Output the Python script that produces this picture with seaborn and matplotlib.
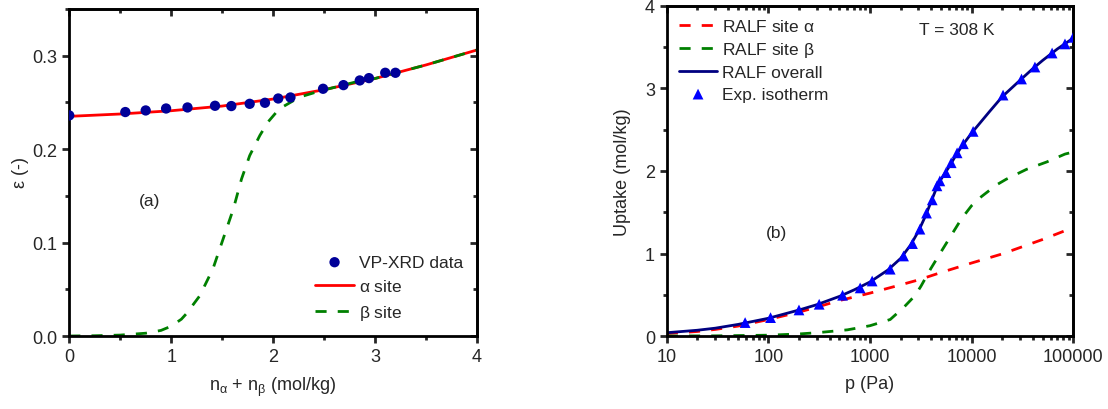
import numpy as np
import pandas as pd
import matplotlib
matplotlib.use("Agg")
import matplotlib.pyplot as plt
import seaborn as sns
from matplotlib.ticker import MultipleLocator, LogLocator, NullFormatter, FixedLocator

# ---------------- Panel (a) data ----------------
xrd_n = [0.0, 0.55, 0.75, 0.95, 1.16, 1.43, 1.59, 1.77, 1.92, 2.05, 2.17, 2.49, 2.69, 2.85, 2.94, 3.10, 3.20]
xrd_eps = [0.236, 0.2396, 0.2413, 0.2434, 0.2445, 0.2463, 0.246, 0.2484, 0.2495, 0.2541, 0.2552,
           0.2645, 0.2684, 0.2734, 0.2759, 0.2816, 0.2816]

alpha_n = [0.0, 0.5, 1.0, 1.5, 2.0, 2.5, 3.0, 3.5, 4.0]
alpha_eps = [0.235, 0.2375, 0.241, 0.246, 0.2535, 0.2635, 0.2755, 0.290, 0.306]

beta_n = [0.0, 0.25, 0.5, 0.75, 0.9, 1.0, 1.1, 1.15, 1.28, 1.41, 1.51, 1.61, 1.69, 1.77, 1.87,
          1.95, 2.06, 2.26, 2.44, 2.6, 2.8, 3.0, 3.5, 4.0]
beta_eps = [0.0, 0.0003, 0.001, 0.003, 0.006, 0.0105, 0.018, 0.024, 0.043, 0.072, 0.104, 0.136,
            0.168, 0.193, 0.2146, 0.229, 0.243, 0.2556, 0.2615, 0.266, 0.2715, 0.2755, 0.290, 0.306]

# ---------------- Panel (b) data ----------------
exp_p = [59, 105, 200, 316, 537, 800, 1050, 1580, 2140, 2620, 3100, 3600, 4100, 4560, 4870, 5590,
         6300, 7200, 8300, 10350, 20400, 31000, 42000, 62000, 83000, 100000]
exp_q = [0.163, 0.223, 0.316, 0.385, 0.494, 0.583, 0.667, 0.81, 0.97, 1.12, 1.295, 1.49, 1.65,
         1.82, 1.88, 1.98, 2.10, 2.22, 2.33, 2.48, 2.92, 3.115, 3.26, 3.43, 3.54, 3.62]

site_a_p = [10, 20, 30, 50, 100, 200, 300, 500, 1000, 2000, 3000, 5000, 10000, 20000, 50000, 100000]
site_a_q = [0.03, 0.055, 0.08, 0.12, 0.2, 0.29, 0.35, 0.43, 0.52, 0.62, 0.68, 0.77, 0.885, 0.995,
            1.17, 1.315]

site_b_p = [10, 30, 100, 200, 300, 600, 1000, 1580, 2140, 2750, 3160, 3980, 5000, 6300, 7940,
            10000, 12500, 14450, 17500, 21900, 34700, 55000, 83000, 100000]
site_b_q = [0.0, 0.002, 0.01, 0.025, 0.04, 0.075, 0.125, 0.2, 0.345, 0.485, 0.6, 0.82, 1.02, 1.22,
            1.42, 1.58, 1.69, 1.75, 1.83, 1.90, 2.02, 2.11, 2.205, 2.23]

overall_p = [10, 20, 30, 50, 100, 200, 300, 500, 700, 1000, 1500, 2000, 2500, 3000, 3500, 4000,
             4500, 5000, 6000, 7000, 8000, 10000, 15000, 20000, 30000, 40000, 50000, 70000, 100000]
overall_q = [0.04, 0.07, 0.095, 0.14, 0.215, 0.315, 0.38, 0.48, 0.56, 0.655, 0.80, 0.94, 1.1, 1.27,
             1.45, 1.63, 1.79, 1.9, 2.05, 2.19, 2.3, 2.46, 2.72, 2.9, 3.1, 3.24, 3.34, 3.48, 3.61]

sns.set_style("ticks")
plt.rcParams["font.family"] = ["Liberation Sans", "DejaVu Sans"]
plt.rcParams["mathtext.fontset"] = "custom"
plt.rcParams["mathtext.rm"] = "Liberation Sans"
plt.rcParams["mathtext.it"] = "Liberation Sans"

fig = plt.figure(figsize=(11.08, 4.10), dpi=100)
axA = fig.add_axes([0.0625, 0.178, 0.368, 0.798])
axB = fig.add_axes([0.6018, 0.178, 0.3668, 0.805])

def style_axes(ax):
    for s in ax.spines.values():
        s.set_linewidth(2)
        s.set_color("black")
    ax.tick_params(which="major", direction="out", length=5, width=2, labelsize=13,
                   bottom=True, left=True, top=False, right=False)
    ax.tick_params(which="minor", direction="out", length=3, width=2,
                   bottom=True, left=True, top=False, right=False)

def inner_ticks(ax, xmaj, xminloc, ymaj, yminloc):
    sx = ax.secondary_xaxis("top")
    sx.set_xticks(xmaj)
    sx.xaxis.set_minor_locator(xminloc)
    sx.xaxis.set_minor_formatter(NullFormatter())
    sx.tick_params(which="both", direction="in", width=2, labeltop=False, labelbottom=False)
    sx.tick_params(which="major", length=5)
    sx.tick_params(which="minor", length=3)
    sx.spines["top"].set_linewidth(2)
    sy = ax.secondary_yaxis("right")
    sy.set_yticks(ymaj)
    sy.yaxis.set_minor_locator(yminloc)
    sy.yaxis.set_minor_formatter(NullFormatter())
    sy.tick_params(which="both", direction="in", width=2, labelright=False, labelleft=False)
    sy.tick_params(which="major", length=5)
    sy.tick_params(which="minor", length=3)
    sy.spines["right"].set_linewidth(2)

# ---- Panel (a)
dfa = pd.DataFrame({"n": alpha_n, "eps": alpha_eps})
dfb = pd.DataFrame({"n": beta_n, "eps": beta_eps})
dfx = pd.DataFrame({"n": xrd_n, "eps": xrd_eps})
sns.scatterplot(data=dfx, x="n", y="eps", ax=axA, color="#000099", s=55, edgecolor="none",
                label="VP-XRD data", zorder=3)
sns.lineplot(data=dfa, x="n", y="eps", ax=axA, color="#ff0000", lw=2, label=r"$\alpha$ site", zorder=2)
sns.lineplot(data=dfb, x="n", y="eps", ax=axA, color="#008000", lw=2, label=r"$\beta$ site",
             zorder=2, linestyle=(0, (4, 4)))
axA.set_xlim(0, 4)
axA.set_ylim(0, 0.35)
axA.xaxis.set_major_locator(FixedLocator([0, 1, 2, 3, 4]))
axA.xaxis.set_minor_locator(MultipleLocator(0.5))
axA.yaxis.set_major_locator(FixedLocator([0.0, 0.1, 0.2, 0.3]))
axA.yaxis.set_minor_locator(MultipleLocator(0.05))
axA.set_yticklabels(["0.0", "0.1", "0.2", "0.3"])
style_axes(axA)
inner_ticks(axA, [0, 1, 2, 3, 4], MultipleLocator(0.5), [0.0, 0.1, 0.2, 0.3], MultipleLocator(0.05))
axA.set_xlabel(r"n$_\alpha$ + n$_\beta$ (mol/kg)", fontsize=13, labelpad=7)
axA.set_ylabel(r"$\varepsilon$ (-)", fontsize=13, labelpad=1)
axA.text(0.17, 0.4, "(a)", transform=axA.transAxes, fontsize=12.5)
axA.legend(loc="lower right", frameon=False, fontsize=12.5, handlelength=2.2, handletextpad=0.3,
           borderaxespad=0.4, labelspacing=0.5, bbox_to_anchor=(1.0, 0.0))

# ---- Panel (b)
dsa = pd.DataFrame({"p": site_a_p, "q": site_a_q})
dsb = pd.DataFrame({"p": site_b_p, "q": site_b_q})
dov = pd.DataFrame({"p": overall_p, "q": overall_q})
dex = pd.DataFrame({"p": exp_p, "q": exp_q})
sns.lineplot(data=dsa, x="p", y="q", ax=axB, color="#ff0000", lw=2, linestyle=(0, (4, 4)),
             label=r"RALF site $\alpha$")
sns.lineplot(data=dsb, x="p", y="q", ax=axB, color="#008000", lw=2, linestyle=(0, (4, 4)),
             label=r"RALF site $\beta$")
sns.lineplot(data=dov, x="p", y="q", ax=axB, color="#000080", lw=2, label="RALF overall")
sns.scatterplot(data=dex, x="p", y="q", ax=axB, color="#0000ff", marker="^", s=60,
                edgecolor="none", label="Exp. isotherm", zorder=3)
axB.set_xscale("log")
axB.set_xlim(10, 100000)
axB.set_ylim(0, 4)
axB.xaxis.set_major_locator(FixedLocator([10, 100, 1000, 10000, 100000]))
axB.set_xticklabels(["10", "100", "1000", "10000", "100000"])
axB.xaxis.set_minor_locator(LogLocator(base=10, subs=np.arange(2, 10), numticks=20))
axB.xaxis.set_minor_formatter(NullFormatter())
axB.yaxis.set_major_locator(FixedLocator([0, 1, 2, 3, 4]))
axB.yaxis.set_minor_locator(MultipleLocator(0.5))
style_axes(axB)
inner_ticks(axB, [10, 100, 1000, 10000, 100000],
            LogLocator(base=10, subs=np.arange(2, 10), numticks=20),
            [0, 1, 2, 3, 4], MultipleLocator(0.5))
axB.set_xlabel("p (Pa)", fontsize=13, labelpad=7)
axB.set_ylabel("Uptake (mol/kg)", fontsize=13, labelpad=10)
axB.text(0.245, 0.3, "(b)", transform=axB.transAxes, fontsize=12.5)
axB.text(0.62, 0.915, "T = 308 K", transform=axB.transAxes, fontsize=12.5)
axB.legend(loc="upper left", frameon=False, fontsize=12.5, handlelength=2.2, handletextpad=0.3,
           borderaxespad=0.3, labelspacing=0.35)

fig.savefig("out.png", dpi=100)
